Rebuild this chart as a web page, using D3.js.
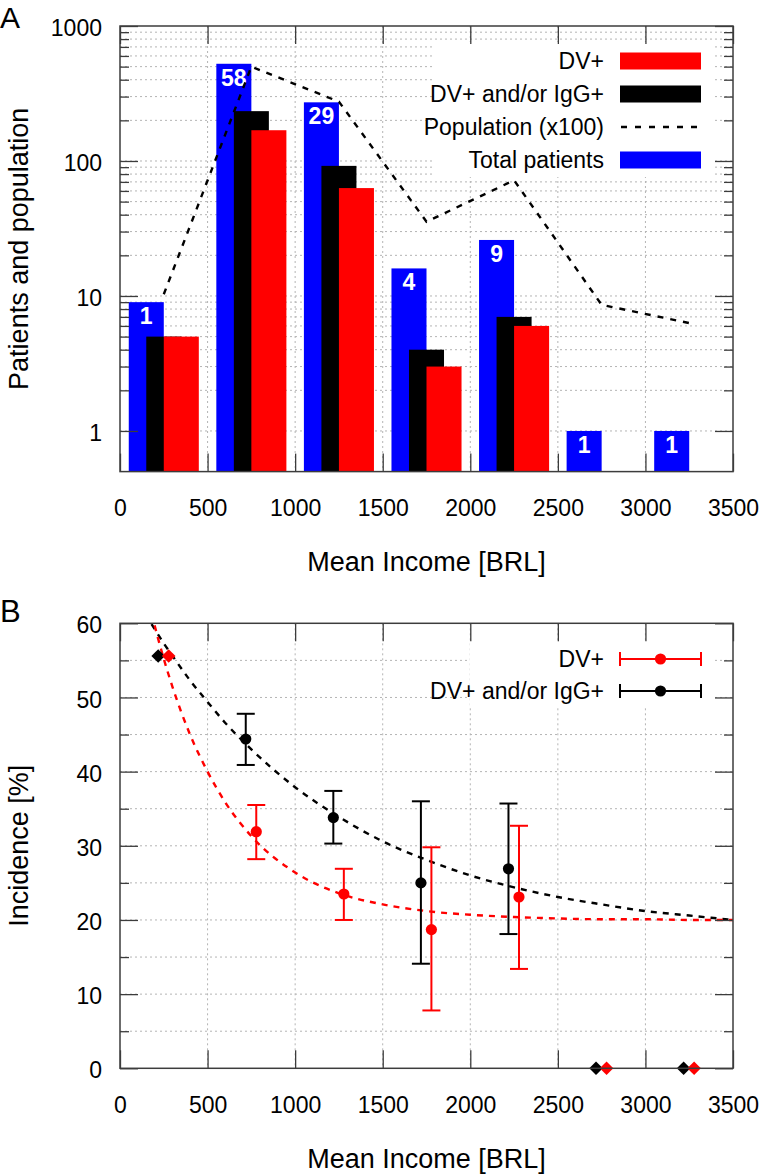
<!DOCTYPE html>
<html><head><meta charset="utf-8">
<script src="https://cdn.jsdelivr.net/npm/d3@7"></script>
<style>
body{margin:0;background:#fff;}
svg{display:block;font-family:"Liberation Sans",Arial,Helvetica,sans-serif;}
</style></head><body>
<svg id="chart" width="759" height="1174"></svg>
<script>
// ---------- Data ----------
const incomeBins = [250, 750, 1250, 1750, 2250, 2750, 3250];
const totalPatients = [9, 525, 272, 16, 26, 1, 1];
const dvIggPatients = [5, 234, 92, 4, 7, 0, 0];
const dvPatients = [5, 169, 63, 3, 6, 0, 0];
const population = [10.3, 500, 275, 35.5, 72, 8.6, 6.3];
const barLabels = ["1", "58", "29", "4", "9", "1", "1"];

const dvIggIncome = [218, 718, 1218, 1718, 2218, 2718, 3218];
const dvIggIncidence = [55.6, 44.4, 33.8, 25.0, 26.9, 0, 0];
const dvIggLow = [null, 40.9, 30.3, 14.1, 18.1, null, null];
const dvIggHigh = [null, 47.8, 37.4, 36.0, 35.7, null, null];

const dvIncome = [278, 778, 1278, 1778, 2278, 2778, 3278];
const dvIncidence = [55.6, 31.9, 23.5, 18.7, 23.1, 0, 0];
const dvLow = [null, 28.2, 20.0, 7.8, 13.4, null, null];
const dvHigh = [null, 35.5, 26.9, 29.8, 32.7, null, null];

const fitIncome = [180, 250, 300, 400, 500, 600, 750, 1000, 1250, 1500, 1750, 2000, 2250, 2500, 2750, 3000, 3250, 3500];
const dvIggFit = [59.9, 57.3, 55.6, 52.3, 49.4, 46.6, 43.0, 37.9, 33.9, 30.6, 28.1, 26.0, 24.4, 23.1, 22.1, 21.2, 20.6, 20.0];
const dvFit = [61.3, 55.2, 51.4, 45.0, 40.0, 35.9, 31.3, 26.4, 23.6, 22.1, 21.2, 20.7, 20.4, 20.2, 20.1, 20.1, 20.0, 20.0];

const xTicks = [0, 500, 1000, 1500, 2000, 2500, 3000, 3500];
const logMajor = [1, 10, 100, 1000];
const logMinor = [2,3,4,5,6,7,8,9,20,30,40,50,60,70,80,90,200,300,400,500,600,700,800,900];
const incMajor = [0, 10, 20, 30, 40, 50, 60];
const incMinor = [5, 15, 25, 35, 45, 55];

const legendA = ["DV+", "DV+ and/or IgG+", "Population (x100)", "Total patients"];
const legendB = ["DV+", "DV+ and/or IgG+"];

// ---------- Layout ----------
const L = 120, R = 733;
const A_TOP = 26, A_BOT = 471.6;
const B_TOP = 623.3, B_BOT = 1068.3;
const BLUE = "#0000ff", RED = "#ff0000", BLACK = "#000000";
const GRID = "#b4b4b4", FRAME = "#3c3c3c";
const svg = d3.select("#chart");

const x = d3.scaleLinear().domain([0, 3500]).range([L, R]);
const yA = d3.scaleLog().domain([0.5, 1000]).range([A_BOT, A_TOP]);
const yB = d3.scaleLinear().domain([0, 60]).range([B_BOT, B_TOP]);

function grid(g, yScale, yVals, top, bot) {
  g.selectAll(".gy").data(yVals).join("line")
    .attr("x1", L).attr("x2", R)
    .attr("y1", d => yScale(d)).attr("y2", d => yScale(d))
    .attr("stroke", GRID).attr("stroke-width", 1).attr("stroke-dasharray", "2,3");
  g.selectAll(".gx").data(xTicks.slice(1, -1)).join("line").attr("class", "gx")
    .attr("x1", d => x(d)).attr("x2", d => x(d))
    .attr("y1", top).attr("y2", bot)
    .attr("stroke", GRID).attr("stroke-width", 1).attr("stroke-dasharray", "2,3");
}

function styleAxis(s, withText) {
  s.attr("font-family", null).attr("font-size", null);
  s.select(".domain").remove();
  s.selectAll("line").attr("stroke", FRAME).attr("stroke-width", 1.3);
  if (withText) s.selectAll("text").attr("font-size", "23px").attr("fill", "#000");
}

function axes(g, yScale, yMajor, yMinor, fmt, top, bot) {
  g.append("g").attr("transform", `translate(0,${bot})`)
    .call(d3.axisBottom(x).tickValues(xTicks).tickSize(-18).tickPadding(28).tickFormat(d3.format("d")))
    .call(s => styleAxis(s, true));
  g.append("g").attr("transform", `translate(0,${top})`)
    .call(d3.axisTop(x).tickValues(xTicks).tickSize(-18).tickFormat(""))
    .call(s => styleAxis(s, false));
  g.append("g").attr("transform", `translate(${L},0)`)
    .call(d3.axisLeft(yScale).tickValues(yMajor).tickSize(-18).tickPadding(18).tickFormat(fmt))
    .call(s => { styleAxis(s, true); s.selectAll("text").attr("dy", "0.42em"); });
  g.append("g").attr("transform", `translate(${L},0)`)
    .call(d3.axisLeft(yScale).tickValues(yMinor).tickSize(-9).tickFormat(""))
    .call(s => styleAxis(s, false));
  g.append("g").attr("transform", `translate(${R},0)`)
    .call(d3.axisRight(yScale).tickValues(yMajor).tickSize(-18).tickFormat(""))
    .call(s => styleAxis(s, false));
  g.append("g").attr("transform", `translate(${R},0)`)
    .call(d3.axisRight(yScale).tickValues(yMinor).tickSize(-9).tickFormat(""))
    .call(s => styleAxis(s, false));
  g.append("rect").attr("x", L).attr("y", top).attr("width", R - L).attr("height", bot - top)
    .attr("fill", "none").attr("stroke", FRAME).attr("stroke-width", 1.5);
}

// ================= Panel A =================
const gA = svg.append("g");
grid(gA.append("g"), yA, logMajor.slice(0, 3).concat(logMinor), A_TOP, A_BOT);

const barsA = gA.append("g");
const series = [
  { vals: totalPatients, color: BLUE, off: [-200, 0] },
  { vals: dvIggPatients, color: BLACK, off: [-100, 100] },
  { vals: dvPatients, color: RED, off: [0, 200] }
];
series.forEach(s => {
  barsA.selectAll(null).data(incomeBins.map((b, i) => ({ b, v: s.vals[i] })).filter(d => d.v > 0))
    .join("rect")
    .attr("x", d => x(d.b + s.off[0])).attr("width", d => x(d.b + s.off[1]) - x(d.b + s.off[0]))
    .attr("y", d => yA(d.v)).attr("height", d => A_BOT - yA(d.v))
    .attr("fill", s.color);
});
barsA.selectAll(null).data(incomeBins.map((b, i) => ({ b, v: totalPatients[i], t: barLabels[i] })))
  .join("text")
  .attr("x", d => x(d.b - 100)).attr("y", d => yA(d.v) + 22)
  .attr("text-anchor", "middle").attr("font-size", "23px").attr("font-weight", "bold").attr("fill", "#fff")
  .text(d => d.t);

gA.append("path")
  .datum(incomeBins.map((b, i) => [b, population[i]]))
  .attr("d", d3.line().x(d => x(d[0])).y(d => yA(d[1])))
  .attr("fill", "none").attr("stroke", "#000").attr("stroke-width", 2.4).attr("stroke-dasharray", "6,7");

gA.append("rect").attr("x", 433).attr("y", 42).attr("width", 279).attr("height", 135).attr("fill", "#fff");
const legRowsA = [61, 94, 127, 160];
legendA.forEach((t, i) => {
  const yy = legRowsA[i];
  gA.append("text").attr("x", 604).attr("y", yy + 8).attr("text-anchor", "end")
    .attr("font-size", "23px").attr("fill", "#000").text(t);
  if (i === 2) {
    gA.append("line").attr("x1", 621).attr("x2", 701).attr("y1", yy).attr("y2", yy)
      .attr("stroke", "#000").attr("stroke-width", 2.4).attr("stroke-dasharray", "6,8");
  } else {
    const c = i === 0 ? RED : (i === 1 ? BLACK : BLUE);
    gA.append("rect").attr("x", 620).attr("y", yy - 8.5).attr("width", 81).attr("height", 17).attr("fill", c);
  }
});

axes(gA, yA, logMajor, logMinor, d3.format("d"), A_TOP, A_BOT);

gA.append("text").attr("transform", `translate(28,${(A_TOP + A_BOT) / 2}) rotate(-90)`)
  .attr("text-anchor", "middle").attr("font-size", "27px").text("Patients and population");
gA.append("text").attr("x", (L + R) / 2).attr("y", 571).attr("text-anchor", "middle")
  .attr("font-size", "27px").text("Mean Income [BRL]");
gA.append("text").attr("x", 0).attr("y", 27.5).attr("font-size", "30px").text("A");

// ================= Panel B =================
const gB = svg.append("g");
grid(gB.append("g"), yB, incMajor.slice(1, -1).concat(incMinor), B_TOP, B_BOT);

svg.append("defs").append("clipPath").attr("id", "clipB")
  .append("rect").attr("x", L).attr("y", B_TOP).attr("width", R - L).attr("height", B_BOT - B_TOP);

const fitLine = d3.line().x(d => x(d[0])).y(d => yB(d[1])).curve(d3.curveMonotoneX);
gB.append("path").attr("clip-path", "url(#clipB)")
  .datum(fitIncome.map((v, i) => [v, dvIggFit[i]]))
  .attr("d", fitLine).attr("fill", "none").attr("stroke", BLACK).attr("stroke-width", 2.4).attr("stroke-dasharray", "6,6");
gB.append("path").attr("clip-path", "url(#clipB)")
  .datum(fitIncome.map((v, i) => [v, dvFit[i]]))
  .attr("d", fitLine).attr("fill", "none").attr("stroke", RED).attr("stroke-width", 2.4).attr("stroke-dasharray", "6,6");

function drawSeries(xs, ys, lo, hi, color) {
  const g = gB.append("g");
  const data = xs.map((v, i) => ({ x: v, y: ys[i], lo: lo[i], hi: hi[i] }));
  const withErr = data.filter(d => d.lo !== null);
  const noErr = data.filter(d => d.lo === null);
  g.selectAll(null).data(withErr).join("line")
    .attr("x1", d => x(d.x)).attr("x2", d => x(d.x)).attr("y1", d => yB(d.lo)).attr("y2", d => yB(d.hi))
    .attr("stroke", color).attr("stroke-width", 2);
  ["lo", "hi"].forEach(k => {
    g.selectAll(null).data(withErr).join("line")
      .attr("x1", d => x(d.x) - 9).attr("x2", d => x(d.x) + 9).attr("y1", d => yB(d[k])).attr("y2", d => yB(d[k]))
      .attr("stroke", color).attr("stroke-width", 2);
  });
  g.selectAll(null).data(withErr).join("circle")
    .attr("cx", d => x(d.x)).attr("cy", d => yB(d.y)).attr("r", 5.6).attr("fill", color);
  g.selectAll(null).data(noErr).join("path")
    .attr("transform", d => `translate(${x(d.x)},${yB(d.y)})`)
    .attr("d", "M0,-6.8L6.8,0L0,6.8L-6.8,0Z").attr("fill", color);
}
drawSeries(dvIggIncome, dvIggIncidence, dvIggLow, dvIggHigh, BLACK);
drawSeries(dvIncome, dvIncidence, dvLow, dvHigh, RED);

gB.append("rect").attr("x", 470).attr("y", 643).attr("width", 243).attr("height", 64).attr("fill", "#fff");
const legRowsB = [659, 691];
legendB.forEach((t, i) => {
  const yy = legRowsB[i];
  const c = i === 0 ? RED : BLACK;
  gB.append("text").attr("x", 604).attr("y", yy + 8).attr("text-anchor", "end")
    .attr("font-size", "23px").attr("fill", "#000").text(t);
  gB.append("line").attr("x1", 620).attr("x2", 701).attr("y1", yy).attr("y2", yy).attr("stroke", c).attr("stroke-width", 2);
  [620, 701].forEach(xx => gB.append("line").attr("x1", xx).attr("x2", xx).attr("y1", yy - 7).attr("y2", yy + 7)
    .attr("stroke", c).attr("stroke-width", 2));
  gB.append("circle").attr("cx", 660.5).attr("cy", yy).attr("r", 5.6).attr("fill", c);
});

axes(gB, yB, incMajor, incMinor, d3.format("d"), B_TOP, B_BOT);

gB.append("text").attr("transform", `translate(28,${(B_TOP + B_BOT) / 2}) rotate(-90)`)
  .attr("text-anchor", "middle").attr("font-size", "27px").text("Incidence [%]");
gB.append("text").attr("x", (L + R) / 2).attr("y", 1168).attr("text-anchor", "middle")
  .attr("font-size", "27px").text("Mean Income [BRL]");
gB.append("text").attr("x", 0).attr("y", 622).attr("font-size", "31px").text("B");
</script>
</body></html>
